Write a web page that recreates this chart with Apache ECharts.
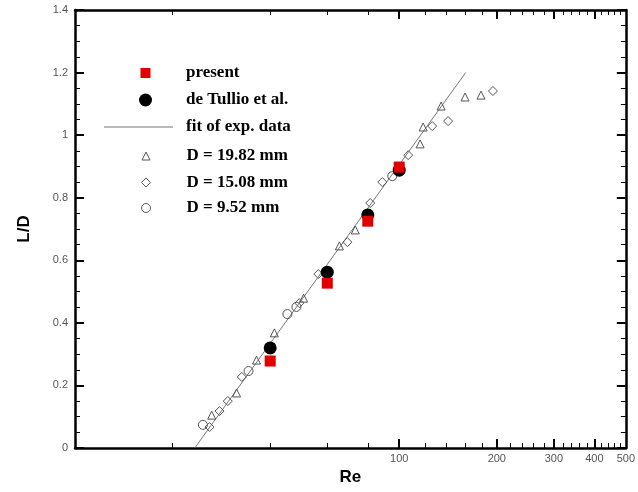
<!DOCTYPE html>
<html>
<head>
<meta charset="utf-8">
<script src="https://cdn.jsdelivr.net/npm/echarts@6/dist/echarts.min.js"></script>
<style>html,body{margin:0;padding:0;background:#fff;}#c{width:638px;height:492px;}</style>
</head>
<body>
<div id="c"></div>
<script>
// ---- data ----
const presentData = [[40, 0.278], [60, 0.527], [80, 0.725], [100, 0.898]];
const tullioData = [[40, 0.320], [60, 0.562], [80, 0.745], [100, 0.888]];
const fitData = [[23.4, 0.0], [160.4, 1.2]];
const d1982Data = [[26.4, 0.105], [31.5, 0.176], [36.3, 0.281], [41.2, 0.368], [50.7, 0.479], [65.4, 0.646], [73.2, 0.697], [116, 0.972], [118.5, 1.026], [134.7, 1.093], [159.6, 1.122], [178.8, 1.128]];
const d1508Data = [[26.0, 0.067], [27.9, 0.118], [29.6, 0.150], [32.7, 0.227], [49.2, 0.463], [56.3, 0.556], [69.2, 0.658], [81.4, 0.783], [88.7, 0.850], [106.6, 0.936], [126.4, 1.029], [141.5, 1.045], [194.6, 1.141]];
const d952Data = [[24.8, 0.074], [34.3, 0.246], [45.2, 0.428], [48.2, 0.451], [95.2, 0.869]];
const xLabelValues = [100, 200, 300, 400, 500];
const xMajorTicks = [100, 200, 300, 400];
const xMinorTicks = [20, 40, 60, 80, 120, 140, 160, 180, 220, 240, 260, 280, 320, 340, 360, 380, 420, 440, 460, 480];
const names = ['present', 'de Tullio et al.', 'fit of exp. data', 'D = 19.82 mm', 'D = 15.08 mm', 'D = 9.52 mm'];

const chart = echarts.init(document.getElementById('c'), null, {renderer: 'canvas'});
const axisLineStyle = {show: true, onZero: false, lineStyle: {color: '#000', width: 2.5}};
const xBase = {type: 'log', logBase: 10, min: 10, max: 500, gridIndex: 0, splitLine: {show: false}, minorTick: {show: false}, minorSplitLine: {show: false}};
const labelFont = {fontFamily: 'Liberation Sans', fontSize: 11, color: '#555'};
const legendText = {fontFamily: 'Liberation Serif', fontWeight: 'bold', fontSize: 17, color: '#000'};
const TEXT_X = 186, ICON_CX = 145.5;
function mkLegend(item, cy, size, opts) {
  opts = opts || {};
  const w = opts.w || size;
  const left = opts.left !== undefined ? opts.left : ICON_CX - size / 2;
  const pad = TEXT_X - (left + w + 5);
  return {
    show: true, orient: 'vertical', left: left, top: cy - 8.5, padding: 0,
    itemWidth: w, itemHeight: size, selectedMode: false, data: [item],
    formatter: '{p|{name}}',
    textStyle: Object.assign({}, legendText, {rich: {p: Object.assign({padding: [0, 0, 0, pad]}, legendText)}}),
    itemStyle: {borderWidth: opts.bw !== undefined ? opts.bw : 1}, lineStyle: {width: 1}
  };
}
const openStyle = {color: 'rgba(255,255,255,0)', borderColor: '#555', borderWidth: 1, opacity: 1};

chart.setOption({
  animation: false,
  backgroundColor: '#fff',
  grid: {left: 75, right: 11, top: 10, bottom: 44, containLabel: false},
  xAxis: [
    Object.assign({}, xBase, {
      position: 'bottom', axisLine: axisLineStyle,
      axisTick: {show: true, inside: true, length: 9, lineStyle: {color: '#000', width: 2}, customValues: xMajorTicks},
      axisLabel: Object.assign({show: true, margin: 5, customValues: xLabelValues}, labelFont),
      name: 'Re', nameLocation: 'middle', nameGap: 21,
      nameTextStyle: {fontFamily: 'Liberation Sans', fontWeight: 'bold', fontSize: 17, color: '#000'}
    }),
    Object.assign({}, xBase, {
      position: 'bottom', axisLine: {show: false, onZero: false},
      axisTick: {show: true, inside: true, length: 5, lineStyle: {color: '#000', width: 1}, customValues: xMinorTicks},
      axisLabel: {show: false}
    }),
    Object.assign({}, xBase, {
      position: 'top', axisLine: axisLineStyle,
      axisTick: {show: true, inside: true, length: 9, lineStyle: {color: '#000', width: 2}, customValues: xMajorTicks},
      axisLabel: {show: false}
    }),
    Object.assign({}, xBase, {
      position: 'top', axisLine: {show: false, onZero: false},
      axisTick: {show: true, inside: true, length: 5, lineStyle: {color: '#000', width: 1}, customValues: xMinorTicks},
      axisLabel: {show: false}
    })
  ],
  yAxis: [
    {
      type: 'value', min: 0, max: 1.4, interval: 0.2, position: 'left',
      axisLine: axisLineStyle,
      axisTick: {show: true, inside: true, length: 9, lineStyle: {color: '#000', width: 2}},
      minorTick: {show: true, splitNumber: 4, length: 5, lineStyle: {color: '#000', width: 1}},
      splitLine: {show: false}, minorSplitLine: {show: false},
      axisLabel: Object.assign({show: true, margin: 7}, labelFont),
      name: 'L/D', nameLocation: 'middle', nameGap: 42, nameRotate: 90,
      nameTextStyle: {fontFamily: 'Liberation Sans', fontWeight: 'bold', fontSize: 17, color: '#000'}
    },
    {
      type: 'value', min: 0, max: 1.4, interval: 0.2, position: 'right',
      axisLine: axisLineStyle,
      axisTick: {show: true, inside: true, length: 9, lineStyle: {color: '#000', width: 2}},
      minorTick: {show: true, splitNumber: 4, length: 5, lineStyle: {color: '#000', width: 1}},
      splitLine: {show: false}, minorSplitLine: {show: false},
      axisLabel: {show: false}
    }
  ],
  legend: [
    mkLegend({name: names[0], icon: 'rect'}, 73, 10, {bw: 0}),
    mkLegend({name: names[1], icon: 'circle'}, 100, 13, {bw: 0}),
    mkLegend({name: names[2], icon: 'rect'}, 127, 1, {w: 69, left: 104, bw: 0}),
    mkLegend({name: names[3], icon: 'triangle'}, 156, 8),
    mkLegend({name: names[4], icon: 'diamond'}, 182.5, 9),
    mkLegend({name: names[5], icon: 'circle'}, 208, 9)
  ],
  series: [
    {name: names[2], type: 'line', xAxisIndex: 0, yAxisIndex: 0, data: fitData, symbol: 'none', showSymbol: false,
     lineStyle: {color: '#777', width: 1}, itemStyle: {color: '#777'}, z: 1},
    {name: names[3], type: 'scatter', data: d1982Data, symbol: 'triangle', symbolSize: 8, itemStyle: openStyle, z: 2},
    {name: names[4], type: 'scatter', data: d1508Data, symbol: 'diamond', symbolSize: 9, itemStyle: openStyle, z: 2},
    {name: names[5], type: 'scatter', data: d952Data, symbol: 'circle', symbolSize: 9, itemStyle: openStyle, z: 2},
    {name: names[1], type: 'scatter', data: tullioData, symbol: 'circle', symbolSize: 13, itemStyle: {color: '#000', opacity: 1}, z: 3},
    {name: names[0], type: 'scatter', data: presentData, symbol: 'rect', symbolSize: 11, itemStyle: {color: '#e00000', opacity: 1}, z: 4}
  ]
});
</script>
</body>
</html>
